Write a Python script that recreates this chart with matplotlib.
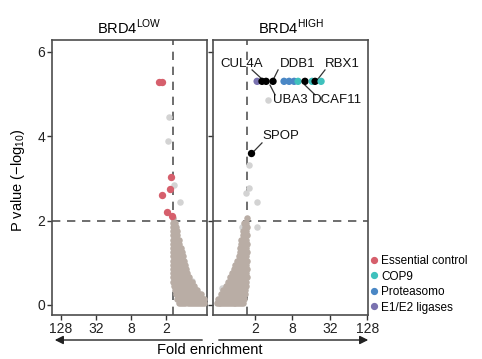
import matplotlib
matplotlib.use("Agg")
import matplotlib.pyplot as plt
from matplotlib.lines import Line2D

plt.rcParams['font.family'] = ['Liberation Sans', 'DejaVu Sans']
plt.rcParams['mathtext.fontset'] = 'custom'
plt.rcParams['mathtext.rm'] = 'Liberation Sans'

# ---------------- data (log2 fold enrichment, -log10 P) ----------------
tick_vals = [1, 3, 5, 7]
tick_labels = ['2', '8', '32', '128']
fold_cut = 0.585
p_cut = 2.0

# BRD4 LOW bulk (rows of points)
low_blob_y = [2.05, 1.95, 1.85, 1.75, 1.65, 1.55, 1.45, 1.35, 1.25, 1.15, 1.05,
              0.95, 0.85, 0.75, 0.65, 0.55, 0.45, 0.35, 0.25, 0.15, 0.05]
low_blob_x = [
    [0.6],
    [0.62, 0.5],
    [0.6, 0.45],
    [0.62, 0.5, 0.4],
    [0.6, 0.48, 0.36],
    [0.62, 0.5, 0.38, 0.26],
    [0.6, 0.48, 0.36, 0.24],
    [0.62, 0.5, 0.38, 0.26, 0.14],
    [0.6, 0.48, 0.36, 0.24, 0.1],
    [0.62, 0.5, 0.38, 0.26, 0.14, 0.04],
    [0.6, 0.48, 0.36, 0.24, 0.12, 0.0],
    [0.62, 0.5, 0.38, 0.26, 0.14, 0.02, -0.08],
    [0.6, 0.48, 0.36, 0.24, 0.12, 0.0, -0.14],
    [0.62, 0.5, 0.38, 0.26, 0.14, 0.02, -0.1, -0.22],
    [0.6, 0.48, 0.36, 0.24, 0.12, 0.0, -0.12, -0.24, -0.34],
    [0.58, 0.46, 0.34, 0.22, 0.1, -0.02, -0.14, -0.26, -0.38, -0.46],
    [0.55, 0.43, 0.31, 0.19, 0.07, -0.05, -0.17, -0.29, -0.41, -0.53, -0.6],
    [0.5, 0.38, 0.26, 0.14, 0.02, -0.1, -0.22, -0.34, -0.46, -0.58, -0.7, -0.78],
    [0.42, 0.3, 0.18, 0.06, -0.06, -0.18, -0.3, -0.42, -0.54, -0.66, -0.78, -0.9, -0.98],
    [0.35, 0.23, 0.11, -0.01, -0.13, -0.25, -0.37, -0.49, -0.61, -0.73, -0.85, -0.97, -1.09, -1.15],
    [0.25, 0.13, 0.01, -0.11, -0.23, -0.35, -0.47, -0.59, -0.71, -0.83, -0.95, -1.07, -1.19],
]
low_out_x = [0.85, 0.89, 0.55, 0.18, -0.49]
low_out_y = [4.45, 3.89, 2.85, 2.43, 0.57]
low_ess_x = [1.23, 1.4, 0.73, 0.77, 1.25, 0.96, 0.66]
low_ess_y = [5.28, 5.28, 3.03, 2.75, 2.6, 2.2, 2.1]

# BRD4 HIGH bulk
high_blob_y = [2.05, 1.95, 1.85, 1.75, 1.65, 1.55, 1.45, 1.35, 1.25, 1.15, 1.05,
               0.95, 0.85, 0.75, 0.65, 0.55, 0.45, 0.35, 0.25, 0.15, 0.05]
high_blob_x = [
    [0.55],
    [0.52, 0.42],
    [0.55, 0.45],
    [0.52, 0.42, 0.34],
    [0.55, 0.45, 0.35],
    [0.52, 0.42, 0.32, 0.26],
    [0.55, 0.45, 0.35, 0.25],
    [0.52, 0.42, 0.32, 0.22],
    [0.55, 0.45, 0.35, 0.25, 0.17],
    [0.52, 0.42, 0.32, 0.22, 0.12],
    [0.55, 0.45, 0.35, 0.25, 0.15, 0.05],
    [0.52, 0.42, 0.32, 0.22, 0.12, 0.02, -0.06],
    [0.55, 0.45, 0.35, 0.25, 0.15, 0.05, -0.05, -0.14],
    [0.52, 0.42, 0.32, 0.22, 0.12, 0.02, -0.08, -0.18, -0.24],
    [0.55, 0.45, 0.35, 0.25, 0.15, 0.05, -0.05, -0.15, -0.25, -0.32],
    [0.52, 0.42, 0.32, 0.22, 0.12, 0.02, -0.08, -0.18, -0.28, -0.38, -0.44],
    [0.5, 0.4, 0.3, 0.2, 0.1, 0.0, -0.1, -0.2, -0.3, -0.4, -0.5, -0.56],
    [0.48, 0.38, 0.28, 0.18, 0.08, -0.02, -0.12, -0.22, -0.32, -0.42, -0.52, -0.62, -0.7],
    [0.45, 0.35, 0.25, 0.15, 0.05, -0.05, -0.15, -0.25, -0.35, -0.45, -0.55, -0.65, -0.75, -0.82],
    [0.4, 0.3, 0.2, 0.1, 0.0, -0.1, -0.2, -0.3, -0.4, -0.5, -0.6, -0.7, -0.8, -0.9, -0.98],
    [0.35, 0.25, 0.15, 0.05, -0.05, -0.15, -0.25, -0.35, -0.45, -0.55, -0.65, -0.75, -0.85, -0.95, -1.05],
]
high_out_x = [1.7, 0.68, 0.68, 1.1, 0.52, 1.1, 0.3, -0.76, -0.34]
high_out_y = [4.86, 3.32, 2.77, 2.44, 2.65, 1.85, 1.85, 0.4, 0.55]

hit_x = [1.11, 1.37, 1.59, 1.96, 2.55, 2.82, 3.09, 3.30, 3.67, 4.05, 4.21, 4.53]
hit_y = [5.3, 5.3, 5.3, 5.3, 5.3, 5.3, 5.3, 5.3, 5.3, 5.3, 5.3, 5.3]
hit_group = ['E1/E2', 'hit', 'hit', 'hit', 'Proteasomo', 'Proteasomo', 'Proteasomo',
             'COP9', 'hit', 'COP9', 'hit', 'COP9']
spop_x = [0.77]
spop_y = [3.6]

gene_names = ['CUL4A', 'DDB1', 'RBX1', 'UBA3', 'DCAF11', 'SPOP']
gene_point_x = [1.43, 1.96, 4.32, 1.8, 3.67, 0.89]
gene_point_y = [5.33, 5.33, 5.33, 5.21, 5.21, 3.62]
gene_line_x = [0.84, 2.23, 4.74, 2.07, 4.21, 1.37]
gene_line_y = [5.57, 5.57, 5.57, 4.98, 4.98, 3.84]
gene_label_x = [0.30, 2.34, 4.74, 1.96, 4.05, 1.37]
gene_label_y = [5.71, 5.71, 5.71, 4.86, 4.86, 4.0]
gene_label_ha = ['center', 'left', 'left', 'left', 'left', 'left']

legend_labels = ['Essential control', 'COP9', 'Proteasomo', 'E1/E2 ligases']
legend_colors = ['#d65f6c', '#3fc1bd', '#4a87c5', '#7a72b0']
group_colors = {'E1/E2': '#7a72b0', 'hit': '#000000', 'Proteasomo': '#4a87c5',
                'COP9': '#3fc1bd'}

# ---------------- figure ----------------
W, H = 482, 359
fig = plt.figure(figsize=(W / 100, H / 100), dpi=100)
ax_l = fig.add_axes([52 / W, 1 - 315 / H, 155 / W, 275 / H])
ax_r = fig.add_axes([213 / W, 1 - 315 / H, 155 / W, 275 / H])

blob_col = '#b9ada5'
out_col = '#d3d3d3'
frame_col = '#4d4d4d'
ms = 22


def flatten(rows_y, rows_x):
    xs, ys = [], []
    for yv, row in zip(rows_y, rows_x):
        for xv in row:
            xs.append(xv)
            ys.append(yv)
    return xs, ys


lx, ly = flatten(low_blob_y, low_blob_x)
hx, hy = flatten(high_blob_y, high_blob_x)

ax_l.scatter(low_out_x, low_out_y, s=ms, color=out_col, lw=0, zorder=2)
ax_l.scatter(lx, ly, s=ms, color=blob_col, lw=0, zorder=3)
ax_l.scatter(low_ess_x, low_ess_y, s=ms + 6, color='#d65f6c', lw=0, zorder=4)

ax_r.scatter(high_out_x, high_out_y, s=ms, color=out_col, lw=0, zorder=2)
ax_r.scatter(hx, hy, s=ms, color=blob_col, lw=0, zorder=3)
ax_r.scatter(hit_x, hit_y, s=ms + 6, color=[group_colors[g] for g in hit_group],
             lw=0, zorder=4)
ax_r.scatter(spop_x, spop_y, s=ms + 6, color='black', lw=0, zorder=4)

for name, px, py, lx2, ly2, tx, ty, ha in zip(gene_names, gene_point_x, gene_point_y,
                                              gene_line_x, gene_line_y,
                                              gene_label_x, gene_label_y,
                                              gene_label_ha):
    ax_r.plot([px, lx2], [py, ly2], color='#333333', lw=0.9, zorder=3)
    ax_r.text(tx, ty, name, ha=ha, va='center', fontsize=9.5, color='#111111')

for ax in (ax_l, ax_r):
    ax.axhline(p_cut, color='#555555', lw=1.2, ls=(0, (5, 4)), zorder=1)
    ax.axvline(fold_cut, color='#555555', lw=1.2, ls=(0, (5, 4)), zorder=1)
    ax.set_ylim(-0.24, 6.28)
    ax.set_xticks(tick_vals)
    ax.set_xticklabels(tick_labels)
    ax.set_yticks([0, 2, 4, 6])
    for sp in ax.spines.values():
        sp.set_color(frame_col)
        sp.set_linewidth(1.2)
    ax.tick_params(colors='#333333', labelcolor='#222222', labelsize=10,
                   length=3.5, width=1.0, pad=1.5)

ax_l.set_xlim(7.51, -1.34)
ax_r.set_xlim(-1.25, 7.04)
ax_r.tick_params(axis='y', labelleft=False)

ax_l.set_title(r'BRD4$^{\mathregular{LOW}}$', fontsize=10.5, pad=4)
ax_r.set_title(r'BRD4$^{\mathregular{HIGH}}$', fontsize=10.5, pad=4)

fig.text(18 / W, 1 - 180 / H, r'P value ($-$log$_{\mathregular{10}}$)',
         rotation=90, ha='center', va='center', fontsize=10.5)
fig.text(210 / W, 1 - 350 / H, 'Fold enrichment', ha='center', va='center',
         fontsize=10.5)

ay = 1 - 340 / H
fig.add_artist(matplotlib.patches.FancyArrowPatch(
    (205 / W, ay), (52 / W, ay), transform=fig.transFigure,
    arrowstyle='-|>,head_length=5,head_width=2.5', color='#222222', lw=1.0))
fig.add_artist(matplotlib.patches.FancyArrowPatch(
    (216 / W, ay), (371 / W, ay), transform=fig.transFigure,
    arrowstyle='-|>,head_length=5,head_width=2.5', color='#222222', lw=1.0))

handles = [Line2D([], [], marker='o', ls='', color=c, markersize=4.2)
           for c in legend_colors]
fig.legend(handles, legend_labels, loc='upper left',
           bbox_to_anchor=(368 / W, 1 - 255 / H), frameon=False, fontsize=8.5,
           handletextpad=0.1, labelspacing=0.3, handlelength=1.0,
           borderaxespad=0, borderpad=0)

fig.savefig('out.png', dpi=100)
